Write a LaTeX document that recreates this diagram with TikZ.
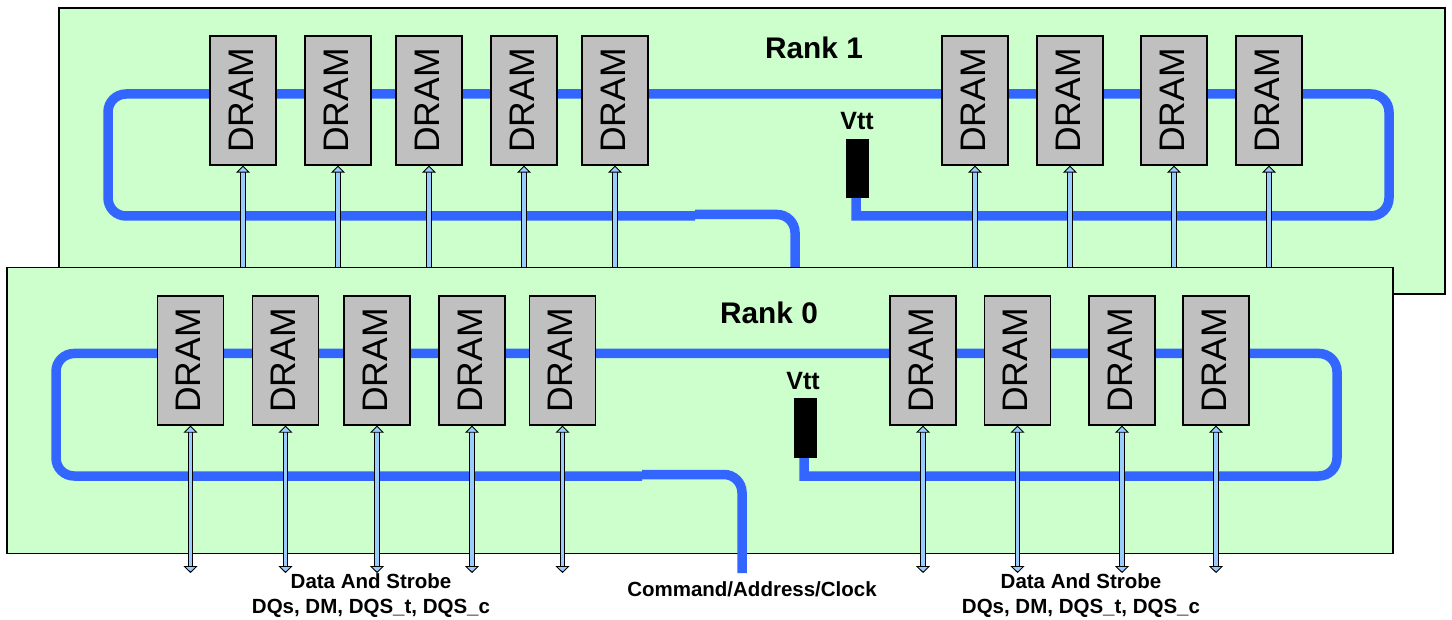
\documentclass[tikz,border=0pt]{standalone}
\usepackage{fontspec}
\setmainfont{Liberation Sans}
\usetikzlibrary{arrows.meta}
\definecolor{boardgreen}{HTML}{CCFFCC}
\definecolor{chipgray}{HTML}{C0C0C0}
\definecolor{busblue}{HTML}{3366FF}
\definecolor{arrowblue}{HTML}{99CCFF}
\tikzset{
  board/.style={draw=black,line width=1.4pt,fill=boardgreen,inner sep=0pt,minimum width=1386pt,minimum height=286pt},
  chip/.style={draw=black,line width=1.3pt,fill=chipgray,inner sep=0pt,minimum width=66pt,minimum height=129pt},
  chiplabel/.style={font=\fontsize{35.5}{35.5}\selectfont,rotate=90,inner sep=0pt},
  termbox/.style={fill=black,inner sep=0pt,minimum width=23pt,minimum height=59pt},
  bus/.style={draw=busblue,line width=9.5pt,line join=miter},
  sig/.style={draw=black,line width=.9pt,double=arrowblue,double distance=3.4pt},
  sigtip/.style={-{Triangle[width=14pt,length=7pt,fill=arrowblue,line width=.9pt]}},
  sigboth/.style={{Triangle[width=14pt,length=7pt,fill=arrowblue,line width=.9pt]}-{Triangle[width=14pt,length=7pt,fill=arrowblue,line width=.9pt]}},
  ranklabel/.style={font=\fontsize{29.8}{29.8}\selectfont\bfseries,inner sep=0pt},
  vttlabel/.style={font=\fontsize{25}{25}\selectfont\bfseries,inner sep=0pt},
  caplabel/.style={font=\fontsize{20.5}{25}\selectfont\bfseries,align=center,inner sep=0pt}
}
\begin{document}
\begin{tikzpicture}[x=1pt,y=-1pt]
\useasboundingbox (0,0) rectangle (1452,620);
% ---- Rank 1
\node[board] (boardA) at (752,151) {};
\node[ranklabel] (rankA) at (814,48) {Rank 1};
\node[vttlabel] (vttA) at (857,121) {Vtt};
\node[termbox] (termA) at (857.5,168.5) {};
\coordinate (cmdA) at (795,268);
\coordinate (turnA) at (856,216);
\coordinate (stubA) at (856,198);
\draw[bus,rounded corners=18pt] (cmdA) |- (695,214.5);
\draw[bus,rounded corners=18pt] (695,216) -- (108,216) -- (108,94) -- (1389,94) -- (1389,216) [sharp corners] -- (turnA) -- (stubA);
\foreach \n/\x in {1/243,2/338,3/429,4/524,5/615,6/975,7/1070,8/1174,9/1269}{
  \node[chip] (a\n) at (\x,100.5) {};
  \node[chiplabel] (al\n) at (\x-2,100.5) {DRAM};
  \coordinate (as\n) at (\x,268);
  \draw[sig,sigtip] (as\n) -- (a\n.south);
}
% ---- Rank 0
\node[board] (boardB) at (700,410.5) {};
\node[ranklabel] (rankB) at (769,313) {Rank 0};
\node[vttlabel] (vttB) at (803,381) {Vtt};
\node[termbox] (termB) at (805,428) {};
\coordinate (cmdB) at (742,573);
\coordinate (turnB) at (804,476);
\coordinate (stubB) at (804,458);
\draw[bus,rounded corners=18pt] (cmdB) |- (642,474.5);
\draw[bus,rounded corners=18pt] (642,476) -- (56,476) -- (56,353.5) -- (1337,353.5) -- (1337,476) [sharp corners] -- (turnB) -- (stubB);
\foreach \n/\x in {1/190.5,2/285.5,3/377,4/472,5/562.5,6/923,7/1017.5,8/1122,9/1216}{
  \node[chip] (b\n) at (\x,360.5) {};
  \node[chiplabel] (bl\n) at (\x-2,360.5) {DRAM};
  \coordinate (bs\n) at (\x,573);
  \draw[sig,sigboth] (bs\n) -- (b\n.south);
}
% ---- Captions
\node[caplabel] (capL) at (371,596) {Data And Strobe\\DQs, DM, DQS\_t, DQS\_c};
\node[caplabel] (capM) at (752,589.5) {Command/Address/Clock};
\node[caplabel] (capR) at (1081,596) {Data And Strobe\\DQs, DM, DQS\_t, DQS\_c};
\end{tikzpicture}
\end{document}
